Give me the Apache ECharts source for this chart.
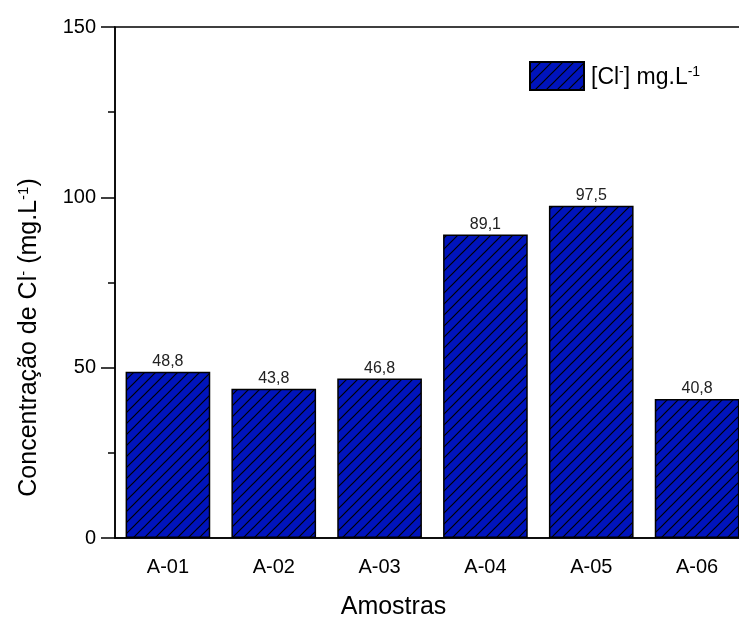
<!DOCTYPE html>
<html><head><meta charset="utf-8">
<script src="https://cdn.jsdelivr.net/npm/echarts@6/dist/echarts.min.js"></script>
<style>html,body{margin:0;padding:0;background:#fff}#c{width:739px;height:617px}</style>
</head><body><div id="c"></div>
<script>
const categories = ['A-01','A-02','A-03','A-04','A-05','A-06'];
const values = [48.8, 43.8, 46.8, 89.1, 97.5, 40.8];
const valueLabels = ['48,8','43,8','46,8','89,1','97,5','40,8'];
const yTicks = [0, 50, 100, 150];
const seriesName = '[Cl-] mg.L-1';

function hatch(){
  const s = 11, cv = document.createElement('canvas');
  cv.width = s; cv.height = s;
  const g = cv.getContext('2d');
  g.fillStyle = '#0014bc'; g.fillRect(0,0,s,s);
  g.strokeStyle = '#000'; g.lineWidth = 1.2;
  g.beginPath();
  g.moveTo(-1, s+1); g.lineTo(s+1, -1);
  g.moveTo(-1, 1); g.lineTo(1, -1);
  g.moveTo(s-1, s+1); g.lineTo(s+1, s-1);
  g.stroke();
  return {image: cv, repeat: 'repeat'};
}
const font = 'Liberation Sans, Arial, sans-serif';
const sup = {fontSize: 14, padding: [0,0,11,0], fontFamily: font, color:'#000'};
const chart = echarts.init(document.getElementById('c'), null, {renderer:'canvas'});
chart.setOption({
  animation: false,
  grid: {left: 115, top: 27, width: 635, height: 511, outerBoundsMode: 'none', containLabel: false,
    show: true, borderColor: '#000', borderWidth: 1.5, backgroundColor: 'transparent'},
  legend: {
    left: 524, top: 56, itemWidth: 54, itemHeight: 28, itemGap: 0,
    icon: 'rect',
    formatter: () => '[Cl{sup|-}] mg.L{sup|-1}',
    textStyle: {fontSize: 23, fontFamily: font, color: '#000', padding: [4,0,0,2], rich: {sup: sup}},
    data: [seriesName]
  },
  xAxis: {
    type: 'category', data: categories,
    axisLine: {lineStyle: {color: '#000', width: 1.5}},
    axisTick: {alignWithLabel: true, length: 10, lineStyle: {color:'#000', width: 1.5}},
    axisLabel: {fontSize: 20, fontFamily: font, color: '#000', margin: 19},
    name: 'Amostras', nameLocation: 'middle', nameGap: 57,
    nameTextStyle: {fontSize: 25, fontFamily: font, color: '#000', padding: [0, 78, 0, 0]}
  },
  yAxis: {
    type: 'value', min: yTicks[0], max: yTicks[yTicks.length-1], interval: 50,
    axisLine: {show: true, lineStyle: {color: '#000', width: 1.5}},
    axisTick: {show: true, length: 14, lineStyle: {color:'#000', width: 1.5}},
    minorTick: {show: true, splitNumber: 2, length: 7, lineStyle: {color:'#000', width: 1.5}},
    splitLine: {show: false},
    axisLabel: {fontSize: 20, fontFamily: font, color: '#000', margin: 19},
    name: 'Concentração de Cl{sup|-} (mg.L{sup|-1})', nameLocation: 'middle', nameGap: 72,
    nameTextStyle: {fontSize: 25, fontFamily: font, color: '#000', padding: [0, 110, 0, 0], rich: {sup: {fontSize: 15, padding:[0,0,12,0], fontFamily: font, color:'#000'}}}
  },
  series: [{
    name: seriesName, type: 'bar', data: values, barCategoryGap: '20%',
    itemStyle: {color: hatch(), borderColor: '#000', borderWidth: 1.5},
    label: {show: true, position: 'top', distance: 2, fontSize: 16, fontFamily: font, color: '#222',
      formatter: p => valueLabels[p.dataIndex]}
  }]
});
</script></body></html>
